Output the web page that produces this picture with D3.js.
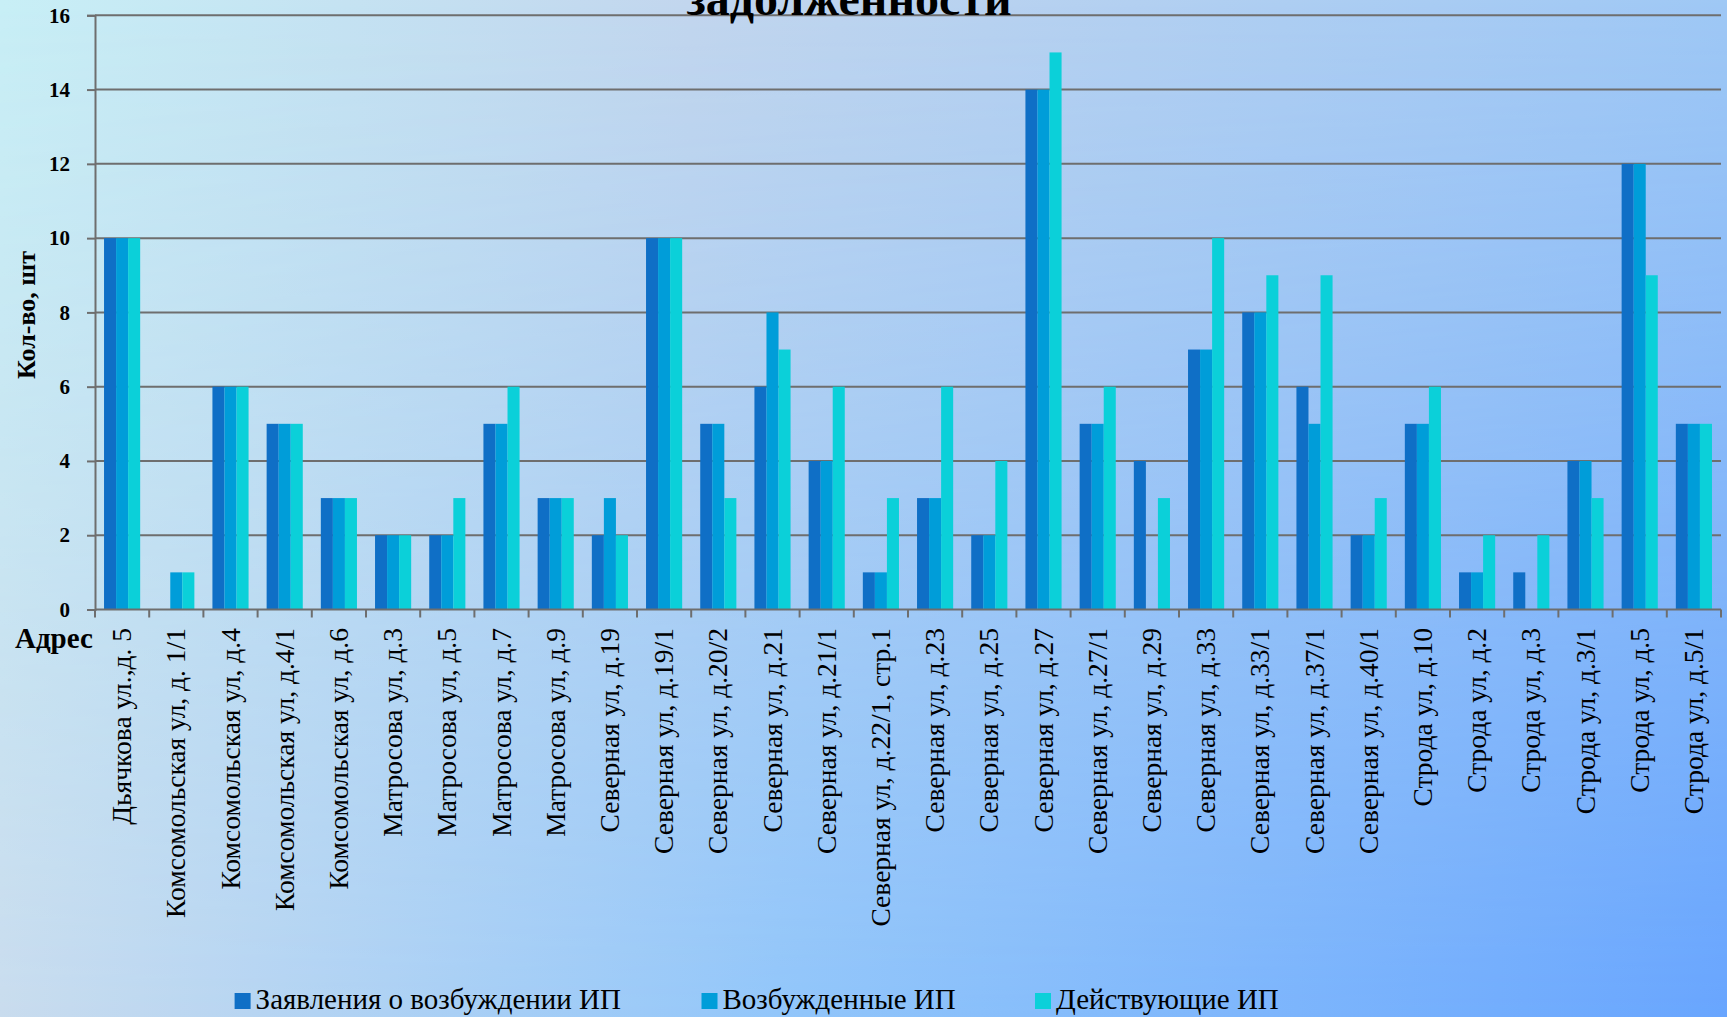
<!DOCTYPE html>
<html lang="ru">
<head>
  <meta charset="UTF-8" />
  <title>Исполнительные производства по адресам</title>
  <script src="https://cdn.jsdelivr.net/npm/d3@7"></script>
  <style>
    body { margin: 0; overflow: hidden; }
    svg { display: block; }
    text { font-family: "Liberation Serif", "Times New Roman", serif; fill: #000; }
  </style>
</head>
<body>
  <div id="chart"></div>
  <script>
    // addresses (x categories)
    var addresses = [
      "Дьячкова ул.,д. 5", "Комсомольская ул, д. 1/1", "Комсомольская ул, д.4",
      "Комсомольская ул, д.4/1", "Комсомольская ул, д.6", "Матросова ул, д.3",
      "Матросова ул, д.5", "Матросова ул, д.7", "Матросова ул, д.9",
      "Северная ул, д.19", "Северная ул, д.19/1", "Северная ул, д.20/2",
      "Северная ул, д.21", "Северная ул, д.21/1", "Северная ул, д.22/1, стр.1",
      "Северная ул, д.23", "Северная ул, д.25", "Северная ул, д.27",
      "Северная ул, д.27/1", "Северная ул, д.29", "Северная ул, д.33",
      "Северная ул, д.33/1", "Северная ул, д.37/1", "Северная ул, д.40/1",
      "Строда ул, д.10", "Строда ул, д.2", "Строда ул, д.3",
      "Строда ул, д.3/1", "Строда ул, д.5", "Строда ул, д.5/1"
    ];
    var seriesNames = ["Заявления о возбуждении ИП", "Возбужденные ИП", "Действующие ИП"];
    var applications = [10, 0, 6, 5, 3, 2, 2, 5, 3, 2, 10, 5, 6, 4, 1, 3, 2, 14, 5, 4, 7, 8, 6, 2, 5, 1, 1, 4, 12, 5];
    var initiated    = [10, 1, 6, 5, 3, 2, 2, 5, 3, 3, 10, 5, 8, 4, 1, 3, 2, 14, 5, 0, 7, 8, 5, 2, 5, 1, 0, 4, 12, 5];
    var active       = [10, 1, 6, 5, 3, 2, 3, 6, 3, 2, 10, 3, 7, 6, 3, 6, 4, 15, 6, 3, 10, 9, 9, 3, 6, 2, 2, 3, 9, 5];
    var yTicks = [0, 2, 4, 6, 8, 10, 12, 14, 16];

    var colors = ["#0f6fc6", "#009dd9", "#0bd0d9"];
    var seriesValues = [applications, initiated, active];

    var w = 1727, h = 1017;
    var plotLeft = 95, plotRight = 1721, plotTop = 15.3, plotBottom = 609.5;

    var svg = d3.select("#chart").append("svg")
      .attr("width", w)
      .attr("height", h);

    // background: top colour row blended into bottom colour row
    var defs = svg.append("defs");
    function hGrad(id, stops) {
      var g = defs.append("linearGradient")
        .attr("id", id)
        .attr("x1", "0").attr("y1", "0")
        .attr("x2", "1").attr("y2", "0");
      stops.forEach(function(s) {
        g.append("stop").attr("offset", s[0]).attr("stop-color", s[1]);
      });
    }
    hGrad("bgTop", [[0, "#c8eff6"], [0.4, "#c2d6ee"], [1, "#9fc8f5"]]);
    hGrad("bgBottom", [[0, "#c9dcee"], [0.45, "#92c6fa"], [1, "#68a5fe"]]);
    var vFade = defs.append("linearGradient")
      .attr("id", "vFade")
      .attr("x1", "0").attr("y1", "0")
      .attr("x2", "0").attr("y2", "1");
    vFade.append("stop").attr("offset", 0).attr("stop-color", "#000");
    vFade.append("stop").attr("offset", 1).attr("stop-color", "#fff");
    defs.append("mask")
      .attr("id", "bgMask")
      .append("rect")
      .attr("width", w)
      .attr("height", h)
      .attr("fill", "url(#vFade)");

    svg.append("rect")
      .attr("width", w)
      .attr("height", h)
      .attr("fill", "url(#bgTop)");
    svg.append("rect")
      .attr("width", w)
      .attr("height", h)
      .attr("fill", "url(#bgBottom)")
      .attr("mask", "url(#bgMask)");

    var x = d3.scaleBand()
      .domain(addresses)
      .range([plotLeft, plotRight]);
    var bw = x.bandwidth();
    // gap width 150%: each bar is bw / 4.5
    var x1 = d3.scaleBand()
      .domain(seriesNames)
      .range([bw * 0.75 / 4.5, bw - bw * 0.75 / 4.5]);
    var y = d3.scaleLinear()
      .domain([0, 16])
      .range([plotBottom, plotTop]);

    // gridlines
    svg.append("g").selectAll("line")
      .data(yTicks.filter(function(d) { return d > 0; }))
      .enter()
      .append("line")
      .attr("x1", plotLeft)
      .attr("x2", plotRight)
      .attr("y1", function(d) { return y(d); })
      .attr("y2", function(d) { return y(d); })
      .attr("stroke", "#6e6e6e")
      .attr("stroke-width", 2);

    // bars
    var rows = addresses.map(function(a, i) {
      return seriesNames.map(function(s, j) {
        return { address: a, series: s, value: seriesValues[j][i], color: colors[j] };
      });
    });
    svg.append("g").selectAll("g")
      .data(rows)
      .enter()
      .append("g")
      .attr("transform", function(d) { return "translate(" + x(d[0].address) + ",0)"; })
      .selectAll("rect")
      .data(function(d) { return d; })
      .enter()
      .append("rect")
      .attr("x", function(d) { return x1(d.series); })
      .attr("width", x1.bandwidth())
      .attr("y", function(d) { return y(d.value); })
      .attr("height", function(d) { return y(0) - y(d.value); })
      .attr("fill", function(d) { return d.color; });

    // y axis
    var yAxis = svg.append("g")
      .attr("transform", "translate(" + plotLeft + ",0)")
      .call(d3.axisLeft(y).tickValues(yTicks).tickSize(8).tickPadding(17));
    yAxis.select(".domain").attr("stroke", "#6e6e6e").attr("stroke-width", 2);
    yAxis.selectAll(".tick line").attr("stroke", "#6e6e6e").attr("stroke-width", 2);
    yAxis.selectAll(".tick text")
      .attr("font-family", "Liberation Serif")
      .attr("font-size", 21)
      .attr("font-weight", "bold")
      .attr("fill", "#000");

    // x axis: line + ticks between categories
    var xg = svg.append("g");
    xg.append("line")
      .attr("x1", plotLeft).attr("x2", plotRight)
      .attr("y1", plotBottom).attr("y2", plotBottom)
      .attr("stroke", "#6e6e6e").attr("stroke-width", 2);
    var edges = addresses.map(function(a) { return x(a); }).concat([plotRight]);
    xg.selectAll(".xt")
      .data(edges)
      .enter()
      .append("line")
      .attr("class", "xt")
      .attr("x1", function(d) { return d; })
      .attr("x2", function(d) { return d; })
      .attr("y1", plotBottom)
      .attr("y2", plotBottom + 8)
      .attr("stroke", "#6e6e6e").attr("stroke-width", 2);

    xg.selectAll(".xl")
      .data(addresses)
      .enter()
      .append("text")
      .attr("class", "xl")
      .attr("transform", function(d) {
        return "translate(" + (x(d) + bw / 2) + "," + 628 + ") rotate(-90)";
      })
      .attr("text-anchor", "end")
      .attr("dy", "0.33em")
      .attr("font-size", 27.5)
      .text(function(d) { return d; });

    // axis titles
    svg.append("text")
      .attr("transform", "translate(35,315) rotate(-90)")
      .attr("text-anchor", "middle")
      .attr("font-size", 26)
      .attr("font-weight", "bold")
      .text("Кол-во, шт");

    svg.append("text")
      .attr("x", 15)
      .attr("y", 648)
      .attr("font-size", 29)
      .attr("font-weight", "bold")
      .text("Адрес");

    // chart title (only its last line shows in the frame)
    svg.append("text")
      .attr("x", 849)
      .attr("y", 15)
      .attr("text-anchor", "middle")
      .attr("font-size", 48)
      .attr("font-weight", "bold")
      .text("задолженности");

    // legend
    var legendX = [234.6, 701.5, 1035];
    var legend = svg.append("g").selectAll("g")
      .data(seriesNames)
      .enter()
      .append("g")
      .attr("transform", function(d, i) { return "translate(" + legendX[i] + ",993)"; });
    legend.append("rect")
      .attr("width", 16)
      .attr("height", 16)
      .attr("fill", function(d, i) { return colors[i]; });
    legend.append("text")
      .attr("x", 21)
      .attr("y", 16)
      .attr("font-size", 29)
      .text(function(d) { return d; });
  </script>
</body>
</html>
